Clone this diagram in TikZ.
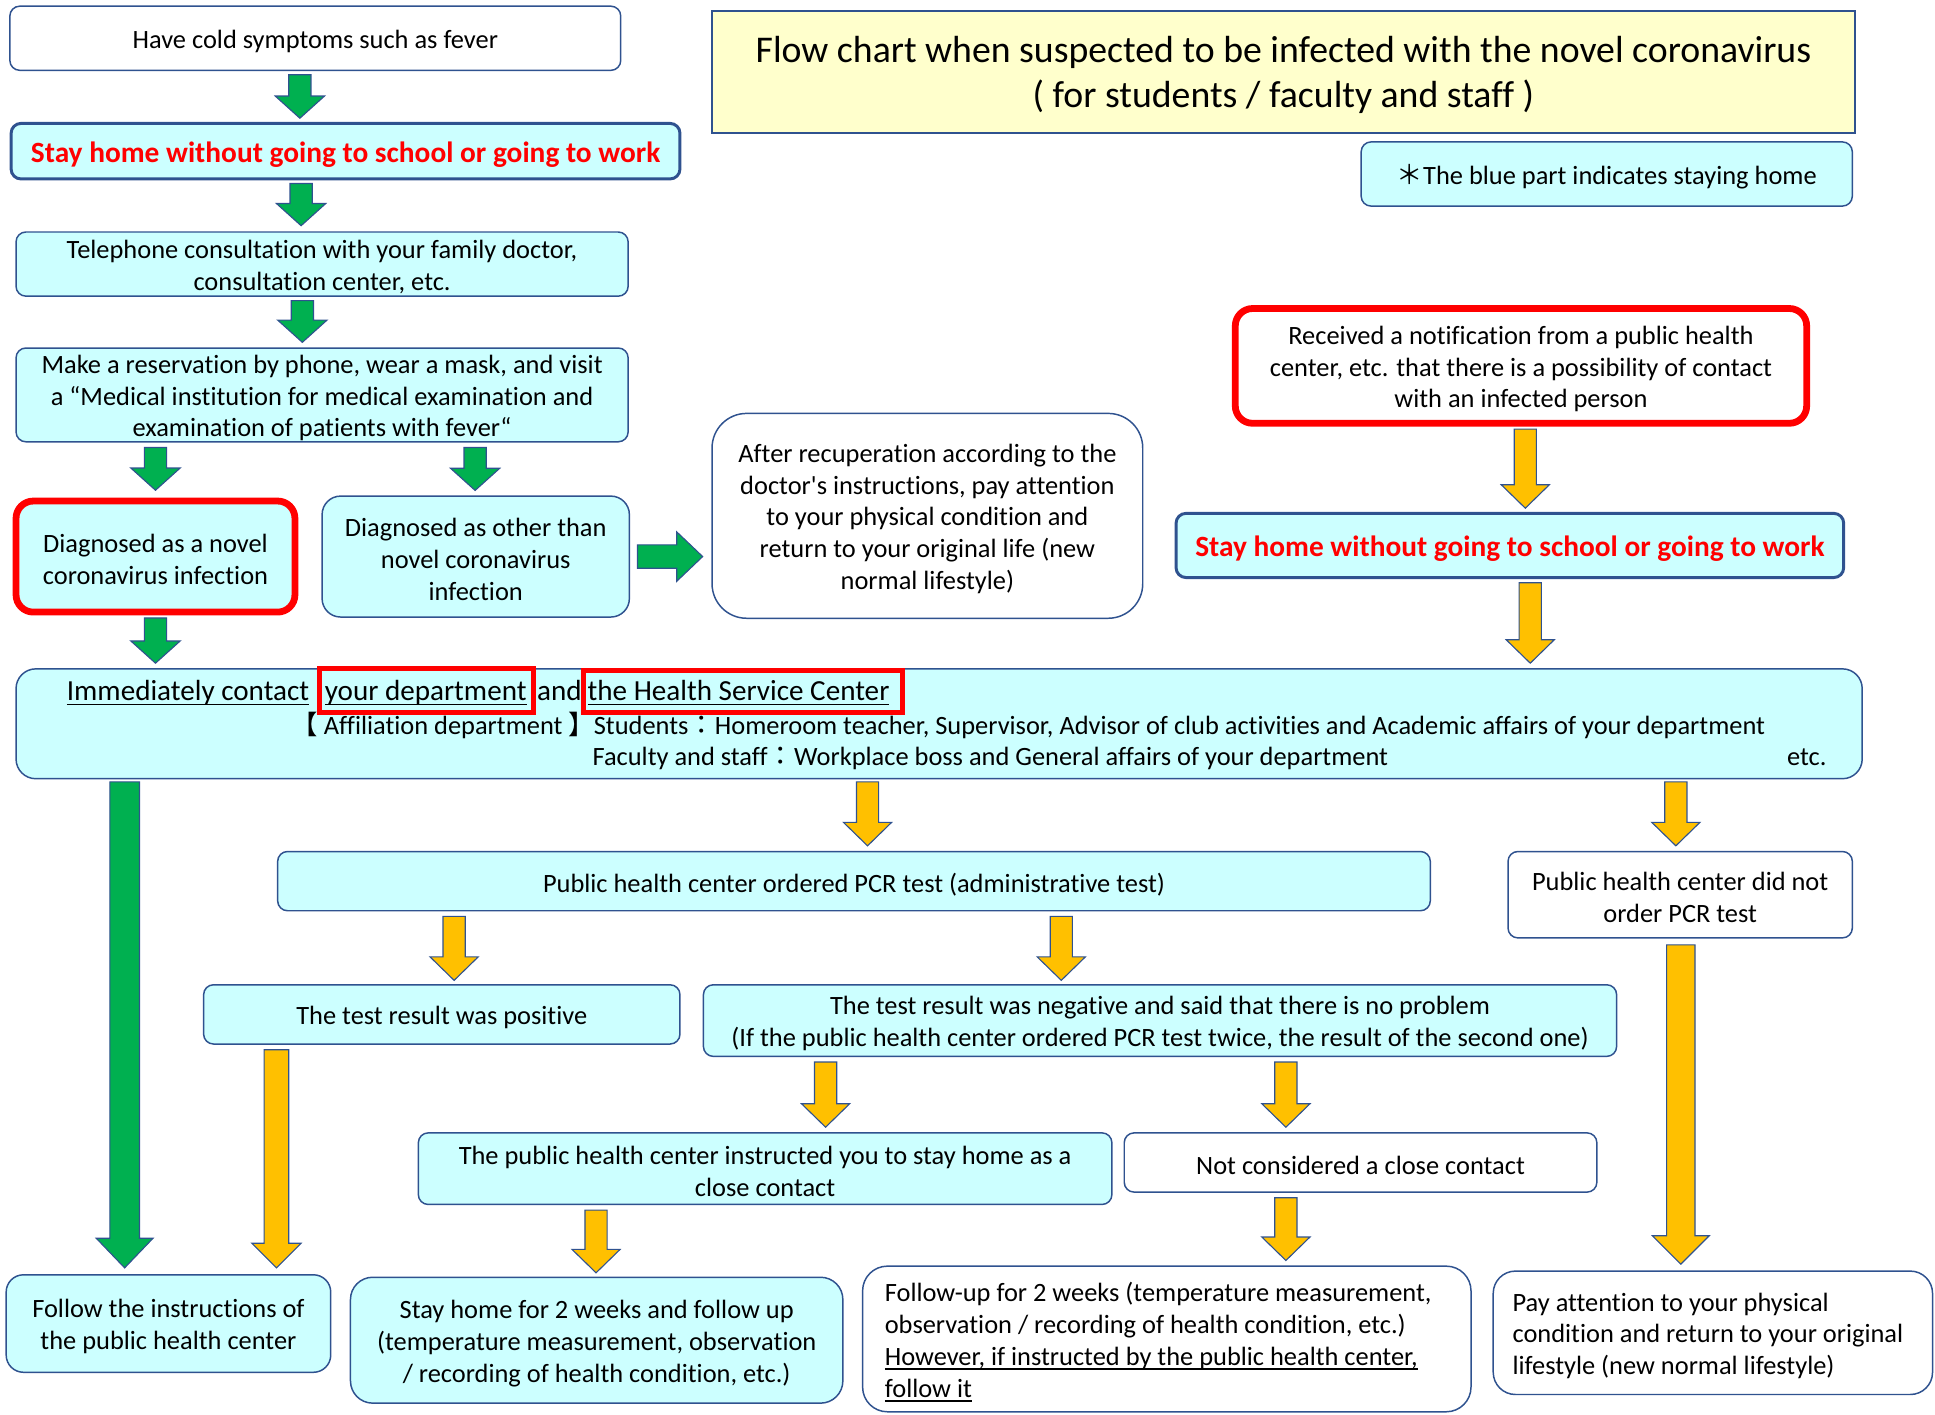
\documentclass[tikz,border=0pt]{standalone}
\usepackage{fontspec}
\setmainfont{Carlito}[Ligatures=NoCommon]
\newfontfamily\aposfont{Carlito}
\newfontfamily\cjk{Noto Sans CJK JP}
\usetikzlibrary{calc}
\definecolor{cyanf}{HTML}{CCFFFF}
\definecolor{bdr}{HTML}{2F528F}
\definecolor{grn}{HTML}{00B050}
\definecolor{ylw}{HTML}{FFC000}
\definecolor{ttl}{HTML}{FFFFCC}
\definecolor{rd}{HTML}{FF0000}
\newcommand\fs{\fontsize{21.4}{25.8}\selectfont}
\newcommand\ulx[1]{\setbox0=\hbox{#1}\rlap{\rule[-3.6pt]{\wd0}{1.1pt}}\box0}
\tikzset{
  txshift/.initial=0pt,
  box/.style={draw=bdr, line width=1.2pt, rounded corners=8pt, fill=cyanf, align=center, inner sep=0pt, font=\fs},
  wbox/.style={fill=white},
  redb/.style={draw=rd, line width=5.5pt, rounded corners=14pt},
  stayb/.style={line width=2.4pt, text=rd, font=\fontsize{23.8}{29}\selectfont\bfseries},
  ttlbox/.style={fill=ttl, sharp corners, line width=1.5pt, font=\fontsize{30.6}{36.5}\selectfont},
  arr/.style={draw=bdr, line width=0.9pt},
  txt/.style={anchor=base west, inner sep=0pt, font=\fs},
  bigtxt/.style={anchor=base west, inner sep=0pt, font=\fontsize{23.6}{28}\selectfont},
  redrect/.style={draw=rd, line width=4pt}
}
% box by corners: [opts]{name}{x1}{y1}{x2}{y2}{text}; text set 2.5pt below centre
\newcommand\bx[7][]{%
  \pgfmathsetmacro\bxw{#5-#3}\pgfmathsetmacro\bxh{#6-#4}%
  \pgfmathsetmacro\bxx{(#3+#5)/2}\pgfmathsetmacro\bxy{(#4+#6)/2}%
  \node[box,#1,minimum width=\bxw pt,minimum height=\bxh pt] (#2) at (\bxx,\bxy) {};
  \node[box,#1,draw=none,fill=none,minimum width=0pt,minimum height=0pt,xshift=\pgfkeysvalueof{/tikz/txshift}] (#2-t) at ($(#2.center)+(0,2.5)$) {#7};}
% down block arrow: {fill}{from}{to}{x}{gap start}{gap end}{shaft half}{head half}{head length}
\newcommand\varr[9]{%
  \filldraw[arr,fill=#1] let \p1=(#2.south), \p2=(#3.north) in
   ({#4pt-#7pt},\y1-#5pt) -- ({#4pt+#7pt},\y1-#5pt) -- ({#4pt+#7pt},\y2+#6pt+#9pt)
   -- ({#4pt+#8pt},\y2+#6pt+#9pt) -- (#4pt,\y2+#6pt) -- ({#4pt-#8pt},\y2+#6pt+#9pt)
   -- ({#4pt-#7pt},\y2+#6pt+#9pt) -- cycle;}
\begin{document}
\begin{tikzpicture}[x=1pt,y=-1pt]
\useasboundingbox (0,0) rectangle (1568,1146);

% ---- boxes ----
\bx[wbox]{have}{8}{5}{503}{57}{Have cold symptoms such as fever}
\bx[stayb]{stayA}{9}{100}{551}{145}{Stay home without going to school or going to work}
\bx{tel}{13}{188}{509}{240}{Telephone consultation with your family doctor,\\consultation center, etc.}
\bx{make}{13}{282}{509}{358}{Make a reservation by phone, wear a mask, and visit\\a “Medical institution for medical examination and\\examination of patients with fever“}
\bx[redb]{dnovel}{13}{406}{239}{496}{Diagnosed as a novel\\coronavirus infection}
\bx[rounded corners=15pt]{dother}{261}{402}{510}{500}{Diagnosed as other than\\novel coronavirus\\infection}
\bx[wbox,rounded corners=28pt]{after}{577}{335}{926}{501}{After recuperation according to the\\doctor{\aposfont '}s instructions, pay attention\\to your physical condition and\\return to your original life (new\\normal lifestyle)}
\node[box,rounded corners=16pt,minimum width=1496pt,minimum height=89pt] (big) at (761,586.5) {};
\bx[ttlbox]{title}{577}{9}{1503}{108}{Flow chart when suspected to be infected with the novel coronavirus\\( for students / faculty and staff )}
\bx{note}{1103}{115}{1501}{167}{{\cjk ＊}The blue part indicates staying home}
\bx[wbox,redb]{recv}{1001}{250}{1464}{343}{Received a notification from a public health\\center, etc. that there is a possibility of contact\\with an infected person}
\bx[stayb]{stayB}{953}{416}{1494}{468}{Stay home without going to school or going to work}
\bx{pcr}{225}{690}{1159}{738}{Public health center ordered PCR test (administrative test)}
\bx[wbox]{nopcr}{1222}{690}{1501}{760}{Public health center did not\\order PCR test}
\bx{pos}{165}{798}{551}{846}{The test result was positive}
\bx{neg}{570}{798}{1310}{856}{The test result was negative and said that there is no problem\\(If the public health center ordered PCR test twice, the result of the second one)}
\bx{close}{339}{918}{901}{976}{The public health center instructed you to stay home as a\\close contact}
\bx[wbox]{notclose}{911}{918}{1294}{966}{Not considered a close contact}
\bx[rounded corners=14pt]{follow}{5}{1033}{268}{1112}{Follow the instructions of\\the public health center}
\bx[rounded corners=18pt]{stay2w}{284}{1035}{683}{1137}{Stay home for 2 weeks and follow up\\(temperature measurement, observation\\/ recording of health condition, etc.)}
\bx[wbox,rounded corners=20pt,align=left,txshift=-7pt]{fu2w}{699}{1026}{1192}{1144}{Follow-up for 2 weeks (temperature measurement,\\observation / recording of health condition, etc.)\\\ulx{However, if instructed by the public health center,}\\\ulx{follow it}}
\bx[wbox,rounded corners=18pt,align=left,txshift=-4pt]{pay}{1210}{1030}{1566}{1130}{Pay attention to your physical\\condition and return to your original\\lifestyle (new normal lifestyle)}

% ---- texts in the big box ----
\node[bigtxt] (l1a) at (54,568) {\ulx{Immediately contact}};
\node[bigtxt] (l1b) at (263,568) {\ulx{your department}};
\node[bigtxt] (l1c) at (435,568) {and};
\node[bigtxt] (l1d) at (476,568) {\ulx{the Health Service Center}};
\draw[redrect] (259,542) rectangle (432,577);
\draw[redrect] (473,543) rectangle (731,577);
\node[txt] (l2a) at (236,595) {{\cjk 【} Affiliation department {\cjk 】}};
\node[txt] (l2b) at (481,595) {Students{\cjk ：}Homeroom teacher, Supervisor, Advisor of club activities and Academic affairs of your department};
\node[txt] (l3a) at (480,620) {Faculty and staff{\cjk ：}Workplace boss and General affairs of your department};
\node[txt] (l3b) at (1448,620) {etc.};

% ---- green arrows ----
\varr{grn}{have}{stayA}{243}{3}{3}{9}{20}{18}
\varr{grn}{stayA}{tel}{244}{2.5}{4.5}{9}{20}{18}
\varr{grn}{tel}{make}{245}{3}{4}{9}{20}{18}
\varr{grn}{make}{dnovel}{126}{4}{6}{9}{20}{18}
\varr{grn}{make}{dother}{385}{4}{4}{9}{20}{18}
\varr{grn}{dnovel}{big}{126}{2}{4}{9}{20}{18}
\varr{grn}{big}{follow}{101}{2}{5}{12}{23}{24}
\filldraw[arr,fill=grn] let \p1=(dother.east), \p2=(after.west) in
  (\x1+6pt,\y1+9.5pt) -- (\x2-28pt,\y1+9.5pt) -- (\x2-28pt,\y1+20pt) -- (\x2-7pt,\y1)
  -- (\x2-28pt,\y1-20pt) -- (\x2-28pt,\y1-9.5pt) -- (\x1+6pt,\y1-9.5pt) -- cycle;

% ---- yellow arrows ----
\varr{ylw}{recv}{stayB}{1236}{2}{3}{9}{19.5}{19}
\varr{ylw}{stayB}{big}{1240}{3}{4}{9}{19.5}{19}
\varr{ylw}{big}{pcr}{703}{2}{4}{9}{19.5}{19}
\varr{ylw}{big}{nopcr}{1358}{2}{4}{9}{19.5}{19}
\varr{ylw}{pcr}{pos}{368}{4}{3}{9}{19.5}{19}
\varr{ylw}{pcr}{neg}{860}{4}{3}{9}{19.5}{19}
\varr{ylw}{pos}{follow}{224}{4}{5}{10}{20}{20}
\varr{ylw}{nopcr}{pay}{1362}{5}{5}{11.5}{23}{23}
\varr{ylw}{neg}{close}{669}{4}{4}{9}{19.5}{19}
\varr{ylw}{neg}{notclose}{1042}{4}{4}{9}{19.5}{19}
\varr{ylw}{close}{stay2w}{483}{4}{3}{9}{19.5}{19}
\varr{ylw}{notclose}{fu2w}{1042}{4}{4}{9}{19.5}{19}
\end{tikzpicture}
\end{document}
